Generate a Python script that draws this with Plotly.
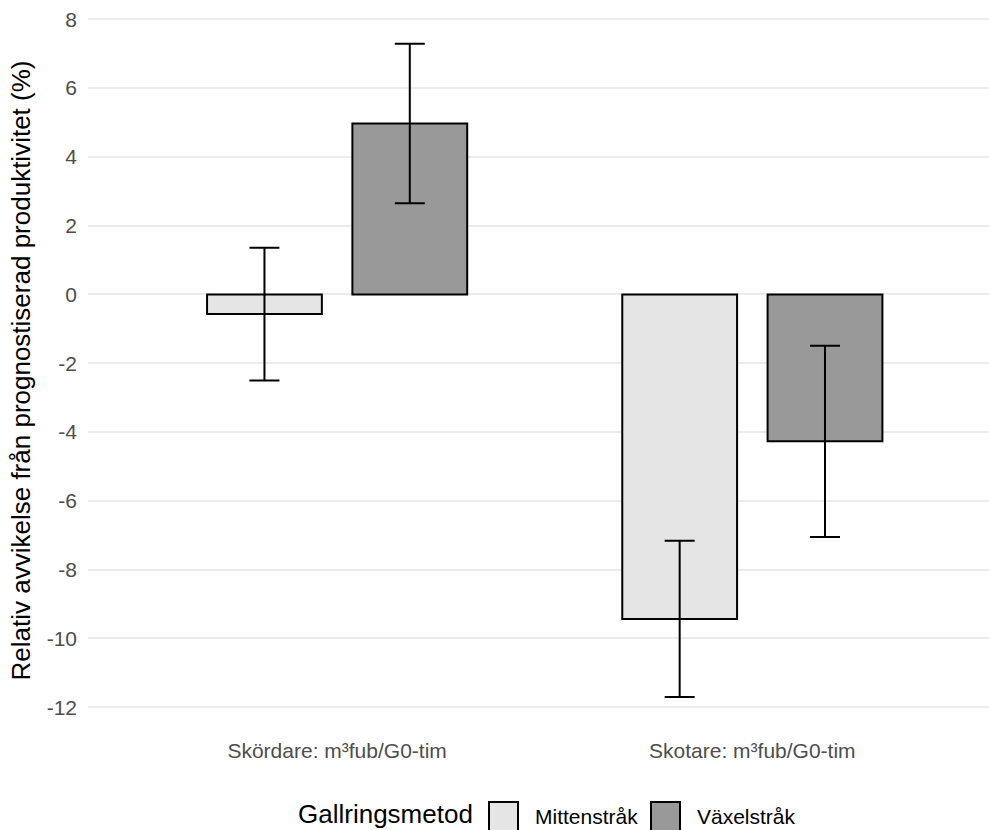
import plotly.graph_objects as go

# ---- data ----
categories = ["Skördare: m³fub/G0-tim", "Skotare: m³fub/G0-tim"]
methods = ["Mittenstråk", "Växelstråk"]
values_mitt = [-0.57, -9.43]
errors_mitt = [1.93, 2.27]
values_vaxel = [4.97, -4.27]
errors_vaxel = [2.32, 2.78]
y_ticks = [-12, -10, -8, -6, -4, -2, 0, 2, 4, 6, 8]
legend_title = "Gallringsmetod"
y_title = "Relativ avvikelse från prognostiserad produktivitet (%)"

fills = ["#e5e5e5", "#999999"]

W, H = 989, 830
ML, MR, MT, MB = 88, 0, 11, 100
PW, PH = W - ML - MR, H - MT - MB


def px_x(p):
    return (p - ML) / PW


def px_y(p):
    return (H - MB - p) / PH


fig = go.Figure()
for name, vals, errs, col in [
    (methods[0], values_mitt, errors_mitt, fills[0]),
    (methods[1], values_vaxel, errors_vaxel, fills[1]),
]:
    fig.add_trace(go.Bar(
        x=categories, y=vals, name=name,
        marker=dict(color=col, line=dict(color="#000000", width=2)),
        error_y=dict(type="data", array=errs, visible=True,
                     color="#000000", thickness=2, width=15),
        showlegend=False,
    ))

font_family = "Liberation Sans, Arial, sans-serif"

# manual legend (ggplot-style, large keys)
shapes = []
annotations = []
annotations.append(dict(text=legend_title, xref="paper", yref="paper",
                        x=px_x(297), y=px_y(830), xanchor="left", yanchor="bottom",
                        showarrow=False, borderpad=0,
                        font=dict(size=26, color="#000000", family=font_family)))
key_x = [489, 651]
text_x = [533, 695]
for i, m in enumerate(methods):
    shapes.append(dict(type="rect", xref="paper", yref="paper",
                       x0=px_x(key_x[i]), x1=px_x(key_x[i] + 29),
                       y0=px_y(802), y1=px_y(831),
                       fillcolor=fills[i], line=dict(color="#000000", width=2)))
    annotations.append(dict(text=m, xref="paper", yref="paper",
                            x=px_x(text_x[i]), y=px_y(817), xanchor="left", yanchor="middle",
                            showarrow=False, font=dict(size=21, color="#000000", family=font_family)))

fig.update_layout(
    width=W, height=H,
    margin=dict(l=ML, r=MR, t=MT, b=MB, autoexpand=False),
    paper_bgcolor="#ffffff", plot_bgcolor="#ffffff",
    barmode="group", bargap=0.3, bargroupgap=0.21,
    font=dict(family=font_family, color="#000000"),
    shapes=shapes, annotations=annotations,
    showlegend=False,
)
fig.update_xaxes(
    range=[-0.6, 1.57], showgrid=False, zeroline=False, showline=False,
    ticks="", tickfont=dict(size=21, color="#4d4d4d"), ticklabelstandoff=6,
)
fig.update_yaxes(
    range=[-12.66, 8.24], tickvals=y_ticks, ticktext=[str(v) for v in y_ticks],
    showgrid=True, gridcolor="#ebebeb", gridwidth=1.6, zeroline=False, showline=False,
    ticks="", tickfont=dict(size=21, color="#4d4d4d"), ticklabelstandoff=10,
    title=dict(text=y_title, font=dict(size=26, color="#000000"), standoff=8),
)

fig.write_html("out.html")
